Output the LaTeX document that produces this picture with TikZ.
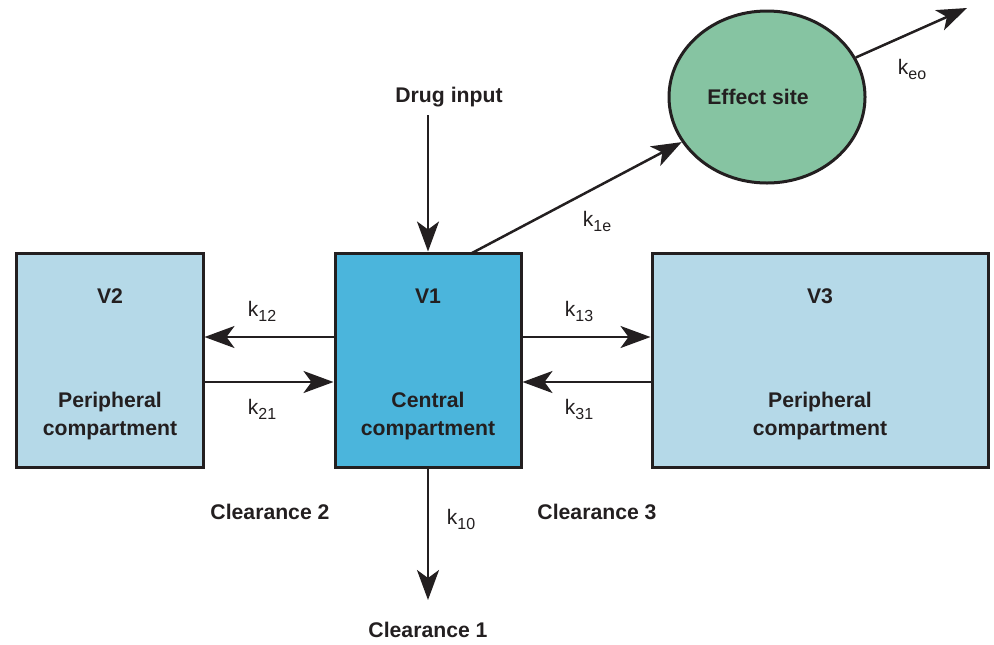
\documentclass[tikz,border=0pt]{standalone}
\usepackage{fontspec}
\setmainfont{Liberation Sans}
\usetikzlibrary{arrows.meta,shapes.geometric}
\definecolor{ink}{HTML}{231F20}
\definecolor{lightbox}{HTML}{B5D9E8}
\definecolor{centralbox}{HTML}{4BB5DC}
\definecolor{effgreen}{HTML}{86C4A2}
\newcommand{\ksub}[1]{k\raisebox{-0.45ex}{\fontsize{8}{9}\selectfont #1}}
\tikzset{
  box/.style={draw=ink, line width=1.5pt, inner sep=0pt},
  lbl/.style={font=\bfseries\fontsize{10.6}{13.8}\selectfont, text=ink, align=center, inner sep=0pt},
  klbl/.style={font=\fontsize{10.5}{12}\selectfont, text=ink, inner sep=0pt},
  flow/.style={draw=ink, line width=1.25pt, -{Stealth[length=15pt,width=11pt,inset=4pt]}}
}
\begin{document}
\begin{tikzpicture}[x=0.5pt,y=-0.5pt]
\useasboundingbox (0,0) rectangle (994,644);
% boxes
\node[box, fill=lightbox, minimum width=93.5pt, minimum height=107pt] (v2) at (109.5,360) {};
\node[box, fill=centralbox, minimum width=93pt, minimum height=107pt] (v1) at (428,360) {};
\node[box, fill=lightbox, minimum width=168pt, minimum height=107pt] (v3) at (820,360) {};
\node[box, fill=effgreen, shape=ellipse, minimum width=98pt, minimum height=86pt] (eff) at (767,97) {};
% labels in boxes
\node[lbl] (v2t) at (110,296) {V2};
\node[lbl] (v2b) at (110,416) {Peripheral\\compartment};
\node[lbl] (v1t) at (428,296) {V1};
\node[lbl] (v1b) at (428,416) {Central\\compartment};
\node[lbl] (v3t) at (820,296) {V3};
\node[lbl] (v3b) at (820,416) {Peripheral\\compartment};
\node[lbl] (efft) at (758,97) {Effect site};
% free labels
\node[lbl] (drug) at (449,97) {Drug input};
\node[lbl] (cl1) at (428,630) {Clearance 1};
\node[lbl] (cl2) at (270,512) {Clearance 2};
\node[lbl] (cl3) at (597,512) {Clearance 3};
% k labels
\node[klbl] (k12) at (262,311) {\ksub{12}};
\node[klbl] (k21) at (262,409) {\ksub{21}};
\node[klbl] (k13) at (579,311) {\ksub{13}};
\node[klbl] (k31) at (579,409) {\ksub{31}};
\node[klbl] (k10) at (461,519) {\ksub{10}};
\node[klbl] (k1e) at (597,221) {\ksub{1e}};
\node[klbl] (keo) at (912,69) {\ksub{eo}};
% coordinates
\coordinate (drugend) at (428,115);
\coordinate (cl1end) at (428,600);
\coordinate (keoend) at (967,8);
\coordinate (v1e) at (472,253);
% connectors
\draw[flow] (drugend) -- (v1.north);
\draw[flow] (v1.south) -- (cl1end);
\draw[flow] (v1e) -- (eff);
\draw[flow] (eff) -- (keoend);
\draw[flow] (v1.west |- 0,337) -- (v2.east |- 0,337);
\draw[flow] (v2.east |- 0,382) -- (v1.west |- 0,382);
\draw[flow] (v1.east |- 0,337) -- (v3.west |- 0,337);
\draw[flow] (v3.west |- 0,382) -- (v1.east |- 0,382);
\end{tikzpicture}
\end{document}
